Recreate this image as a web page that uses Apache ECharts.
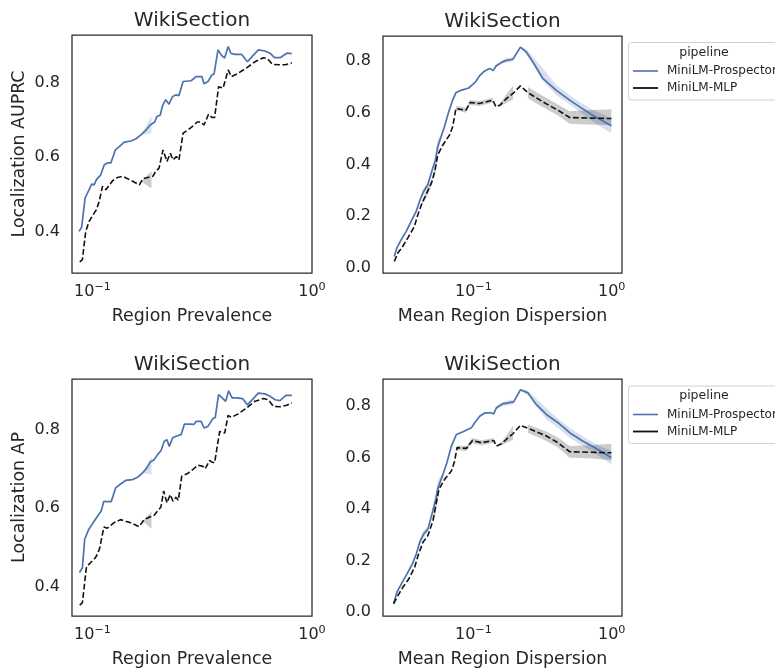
<!DOCTYPE html>
<html><head><meta charset="utf-8">
<script src="https://cdn.jsdelivr.net/npm/echarts@6/dist/echarts.min.js"></script>
<style>html,body{margin:0;padding:0;background:#fff}#c{width:775px;height:669px}</style>
</head><body><div id="c"></div>
<script>
// ---------- data ----------
const seriesNames = ['MiniLM-Prospector', 'MiniLM-MLP'];
const legendTitle = 'pipeline';
const panelTitles = ['WikiSection', 'WikiSection', 'WikiSection', 'WikiSection'];
const xAxisNames = ['Region Prevalence', 'Mean Region Dispersion', 'Region Prevalence', 'Mean Region Dispersion'];
const yAxisNames = ['Localization AUPRC', '', 'Localization AP', ''];

// Panel 1: Localization AUPRC vs Region Prevalence
const p1ProspX = [0.0869,0.0893,0.0926,0.0966,0.0993,0.1018,0.1043,0.1091,0.1132,0.1172,0.1213,0.1271,0.1325,0.1396,0.1499,0.158,0.1667,0.1758,0.1834,0.192,0.1968,0.2037,0.208,0.2155,0.2234,0.2312,0.2393,0.2427,0.2477,0.2588,0.2634,0.2815,0.2966,0.3153,0.322,0.336,0.3505,0.358,0.3667,0.3734,0.3865,0.4,0.415,0.4265,0.4447,0.4775,0.5083,0.5404,0.570,0.611,0.644,0.675,0.716,0.768,0.809];
const p1ProspY = [0.400,0.411,0.490,0.512,0.527,0.525,0.539,0.552,0.579,0.584,0.584,0.619,0.628,0.640,0.643,0.649,0.660,0.673,0.686,0.694,0.709,0.713,0.736,0.754,0.742,0.762,0.767,0.772,0.765,0.803,0.807,0.805,0.816,0.816,0.797,0.803,0.821,0.823,0.861,0.888,0.874,0.866,0.897,0.879,0.876,0.876,0.856,0.874,0.888,0.885,0.879,0.867,0.867,0.879,0.878];
const p1MlpX = [0.0875,0.090,0.0932,0.0966,0.1018,0.1043,0.1074,0.1111,0.1151,0.1235,0.1303,0.1374,0.1474,0.1637,0.1695,0.1786,0.1883,0.194,0.201,0.2096,0.2185,0.2263,0.2328,0.241,0.2477,0.2588,0.2729,0.2877,0.2999,0.3105,0.322,0.338,0.350,0.360,0.3755,0.3935,0.415,0.4295,0.461,0.513,0.550,0.600,0.628,0.660,0.708,0.755,0.809];
const p1MlpY = [0.318,0.324,0.400,0.427,0.449,0.458,0.481,0.521,0.512,0.536,0.545,0.548,0.539,0.525,0.541,0.545,0.548,0.561,0.570,0.619,0.588,0.610,0.592,0.601,0.592,0.664,0.673,0.684,0.694,0.694,0.686,0.715,0.706,0.706,0.789,0.785,0.834,0.816,0.825,0.843,0.856,0.867,0.864,0.849,0.848,0.848,0.853];
const p1ProspBands = [[[0.1667,0.660,0.660],[0.1858,0.664,0.710]]];
const p1MlpBands = [[[0.1665,0.534,0.534],[0.1858,0.515,0.562]]];

// Panel 2: Localization AUPRC vs Mean Region Dispersion
const p2ProspX = [0.0268,0.0279,0.030,0.0326,0.0354,0.0385,0.0411,0.0435,0.0467,0.0508,0.0531,0.0552,0.0583,0.0617,0.0663,0.0708,0.0748,0.0813,0.0925,0.0977,0.1034,0.1116,0.1201,0.1305,0.1395,0.1457,0.1609,0.1741,0.1933,0.2187,0.2416,0.2698,0.3187,0.3981,0.4969,0.5871,0.7325,0.995];
const p2ProspY = [0.0447,0.0771,0.109,0.141,0.180,0.218,0.263,0.295,0.321,0.386,0.417,0.469,0.507,0.546,0.604,0.649,0.678,0.687,0.696,0.707,0.719,0.745,0.761,0.771,0.764,0.781,0.796,0.803,0.807,0.854,0.835,0.796,0.732,0.687,0.649,0.623,0.590,0.550];
const p2MlpX = [0.0268,0.0284,0.0308,0.0335,0.0374,0.0396,0.0425,0.0454,0.0502,0.0531,0.0552,0.06,0.0671,0.0708,0.0748,0.0884,0.0945,0.1105,0.1379,0.1457,0.155,0.1732,0.1933,0.2187,0.2481,0.3187,0.4089,0.4969,0.6564,0.995];
const p2MlpY = [0.0254,0.0578,0.0833,0.116,0.160,0.205,0.251,0.283,0.334,0.386,0.437,0.475,0.514,0.546,0.617,0.610,0.640,0.636,0.649,0.623,0.629,0.655,0.675,0.704,0.678,0.642,0.610,0.582,0.580,0.578];
const p2ProspBands = [
  [[0.0411,0.255,0.270],[0.0435,0.280,0.310],[0.0467,0.312,0.330]],
  [[0.0531,0.405,0.430],[0.0552,0.445,0.500],[0.0583,0.500,0.514]],
  [[0.1457,0.776,0.786],[0.1609,0.789,0.803],[0.1741,0.795,0.812],[0.1933,0.798,0.816]],
  [[0.2187,0.851,0.857],[0.2416,0.825,0.846],[0.3187,0.722,0.770],[0.3981,0.668,0.708],[0.4969,0.632,0.668],[0.5871,0.603,0.642],[0.7325,0.566,0.612],[0.995,0.520,0.578]]
];
const p2MlpBands = [
  [[0.0425,0.243,0.258],[0.0454,0.268,0.298],[0.0502,0.322,0.346]],
  [[0.0502,0.334,0.334],[0.0531,0.362,0.410],[0.0552,0.430,0.445]],
  [[0.0748,0.610,0.626],[0.0884,0.600,0.620],[0.0945,0.630,0.650],[0.1105,0.626,0.646],[0.1379,0.640,0.658]],
  [[0.155,0.624,0.634],[0.1732,0.638,0.672],[0.1933,0.652,0.706]],
  [[0.2481,0.655,0.700],[0.3187,0.622,0.665],[0.4089,0.590,0.632],[0.4969,0.558,0.606],[0.6564,0.555,0.610],[0.995,0.552,0.614]]
];

// Panel 3: Localization AP vs Region Prevalence
const p3ProspX = [0.0872,0.0900,0.0922,0.0962,0.0997,0.1014,0.1043,0.1096,0.1127,0.1168,0.1218,0.1275,0.1344,0.1416,0.1521,0.1603,0.169,0.177,0.1833,0.191,0.198,0.2051,0.2124,0.2185,0.2239,0.232,0.2404,0.2449,0.2535,0.2625,0.2767,0.2899,0.297,0.3128,0.3221,0.3359,0.354,0.3627,0.3705,0.3757,0.3895,0.4045,0.4174,0.4326,0.4529,0.4826,0.5085,0.5401,0.5693,0.6106,0.6436,0.6787,0.7152,0.7599,0.8096];
const p3ProspY = [0.436,0.448,0.521,0.546,0.559,0.559,0.576,0.593,0.618,0.617,0.617,0.652,0.662,0.671,0.673,0.679,0.690,0.703,0.718,0.724,0.737,0.747,0.771,0.775,0.758,0.780,0.784,0.780,0.788,0.815,0.815,0.814,0.822,0.822,0.805,0.809,0.829,0.832,0.869,0.890,0.882,0.873,0.900,0.882,0.882,0.880,0.864,0.880,0.894,0.892,0.886,0.877,0.875,0.888,0.888];
const p3MlpX = [0.0875,0.0900,0.0939,0.0979,0.1032,0.1051,0.108,0.1127,0.1168,0.1252,0.1344,0.1416,0.1494,0.1631,0.1719,0.1813,0.191,0.198,0.2051,0.2110,0.2185,0.2262,0.2328,0.2402,0.2461,0.2552,0.2699,0.2866,0.3022,0.3186,0.3265,0.3415,0.3503,0.3601,0.3797,0.4002,0.4148,0.4295,0.4609,0.5032,0.5494,0.6004,0.6328,0.6674,0.7152,0.7679,0.8096];
const p3MlpY = [0.353,0.359,0.450,0.461,0.474,0.482,0.499,0.552,0.549,0.563,0.571,0.567,0.563,0.553,0.571,0.577,0.582,0.593,0.603,0.644,0.614,0.635,0.618,0.628,0.620,0.682,0.688,0.699,0.710,0.707,0.701,0.722,0.718,0.716,0.796,0.792,0.837,0.832,0.841,0.856,0.873,0.880,0.877,0.860,0.859,0.863,0.869];
const p3ProspBands = [[[0.169,0.690,0.690],[0.1858,0.686,0.733]]];
const p3MlpBands = [[[0.169,0.567,0.567],[0.1858,0.548,0.592]]];

// Panel 4: Localization AP vs Mean Region Dispersion
const p4ProspX = [0.0265,0.0280,0.0302,0.0331,0.0362,0.0387,0.0409,0.0437,0.0469,0.0505,0.0534,0.0555,0.0597,0.0644,0.0693,0.0753,0.0841,0.0967,0.1022,0.111,0.1207,0.1349,0.1402,0.1466,0.1621,0.1779,0.1956,0.2187,0.2481,0.2854,0.3372,0.4089,0.4969,0.6202,0.7962,0.995];
const p4ProspY = [0.032,0.077,0.110,0.148,0.187,0.226,0.271,0.303,0.322,0.387,0.439,0.484,0.529,0.581,0.645,0.690,0.701,0.716,0.736,0.761,0.774,0.774,0.770,0.794,0.809,0.813,0.817,0.864,0.852,0.806,0.768,0.736,0.697,0.664,0.632,0.600];
const p4MlpX = [0.0265,0.0285,0.031,0.0342,0.0376,0.0398,0.0432,0.0469,0.051,0.0534,0.0564,0.062,0.0693,0.0732,0.0761,0.089,0.0984,0.1143,0.1402,0.1466,0.1594,0.1779,0.1933,0.2187,0.2481,0.3372,0.4089,0.4969,0.6935,0.995];
const p4MlpY = [0.032,0.064,0.097,0.129,0.174,0.219,0.271,0.297,0.355,0.413,0.477,0.516,0.548,0.587,0.639,0.636,0.667,0.658,0.667,0.645,0.654,0.677,0.693,0.726,0.714,0.684,0.658,0.623,0.621,0.619];
const p4ProspBands = [
  [[0.0409,0.255,0.285],[0.0437,0.288,0.318],[0.0469,0.312,0.330]],
  [[0.0534,0.420,0.458],[0.0555,0.460,0.515],[0.0597,0.520,0.536]],
  [[0.1466,0.788,0.800],[0.1621,0.800,0.816],[0.1779,0.804,0.822],[0.1956,0.808,0.826]],
  [[0.2187,0.861,0.867],[0.2481,0.842,0.860],[0.3372,0.748,0.792],[0.4089,0.716,0.752],[0.4969,0.677,0.716],[0.6202,0.645,0.682],[0.7962,0.607,0.648],[0.995,0.574,0.626]]
];
const p4MlpBands = [
  [[0.051,0.342,0.368],[0.0534,0.385,0.440],[0.0564,0.462,0.490]],
  [[0.0761,0.630,0.646],[0.089,0.626,0.646],[0.0984,0.656,0.676],[0.1143,0.648,0.668],[0.1402,0.658,0.676]],
  [[0.1594,0.647,0.660],[0.1779,0.660,0.695],[0.1933,0.670,0.724]],
  [[0.2481,0.697,0.729],[0.3372,0.665,0.702],[0.4089,0.640,0.678],[0.4969,0.600,0.645],[0.6935,0.598,0.648],[0.995,0.590,0.654]]
];

// ---------- layout / style ----------
const FONT = 'DejaVu Sans';
const TXT = '#262626';
const BLUE = '#4c72b0';
const BLACK = '#111111';
const grids = [
  {left: 72, top: 35, width: 240, height: 238},
  {left: 383, top: 36, width: 239, height: 237},
  {left: 72, top: 379, width: 240, height: 238},
  {left: 383, top: 379, width: 239, height: 238}
];
const xRanges = [[0.0807, 1.0], [0.0222, 1.187], [0.0807, 1.0], [0.0222, 1.187]];
const yRanges = [[0.288, 0.928], [-0.019, 0.897], [0.325, 0.930], [-0.016, 0.906]];

const panels = [
  {px: p1ProspX, py: p1ProspY, mx: p1MlpX, my: p1MlpY, pb: p1ProspBands, mb: p1MlpBands},
  {px: p2ProspX, py: p2ProspY, mx: p2MlpX, my: p2MlpY, pb: p2ProspBands, mb: p2MlpBands},
  {px: p3ProspX, py: p3ProspY, mx: p3MlpX, my: p3MlpY, pb: p3ProspBands, mb: p3MlpBands},
  {px: p4ProspX, py: p4ProspY, mx: p4MlpX, my: p4MlpY, pb: p4ProspBands, mb: p4MlpBands}
];

function zip(xs, ys) { const n = Math.min(xs.length, ys.length); const r = []; for (let i = 0; i < n; i++) r.push([xs[i], ys[i]]); return r; }

function bandSeries(i, bands, color) {
  return {
    type: 'custom', xAxisIndex: i, yAxisIndex: i, silent: true, z: 1, clip: true,
    data: bands.map(b => [b[0][0], b[0][1]]),
    renderItem: function (params, api) {
      const b = bands[params.dataIndex];
      const top = b.map(p => api.coord([p[0], p[2]]));
      const bot = b.slice().reverse().map(p => api.coord([p[0], p[1]]));
      return {type: 'polygon', shape: {points: top.concat(bot)}, style: {fill: color, stroke: null}};
    }
  };
}

const xAxes = [], yAxes = [], series = [], graphics = [];
panels.forEach((p, i) => {
  xAxes.push({
    type: 'log', logBase: 10, gridIndex: i, min: xRanges[i][0], max: xRanges[i][1],
    axisLine: {show: false}, axisTick: {show: false}, splitLine: {show: false}, minorTick: {show: false},
    axisLabel: {
      margin: 9, color: TXT, fontFamily: FONT, fontSize: 16,
      formatter: function (v) {
        const l = Math.log10(v), e = Math.round(l);
        if (Math.abs(l - e) > 1e-6) return '';
        return '{b|10}{s|' + (e < 0 ? '\u2212' + (-e) : e) + '}';
      },
      rich: {
        b: {fontSize: 16, fontFamily: FONT, color: TXT},
        s: {fontSize: 11.2, fontFamily: FONT, color: TXT, padding: [0, 0, 8, 0]}
      }
    },
    name: xAxisNames[i], nameLocation: 'middle', nameGap: 35,
    nameTextStyle: {fontFamily: FONT, fontSize: 17.4, color: TXT}
  });
  yAxes.push({
    type: 'value', gridIndex: i, min: yRanges[i][0], max: yRanges[i][1],
    axisLine: {show: false}, axisTick: {show: false}, splitLine: {show: false},
    axisLabel: {
      margin: 12, color: TXT, fontFamily: FONT, fontSize: 16,
      formatter: function (v) { const k = v / 0.2; return Math.abs(k - Math.round(k)) < 1e-6 ? Math.abs(v).toFixed(1) : ''; }
    },
    name: yAxisNames[i], nameLocation: 'middle', nameGap: 44, nameRotate: 90,
    nameTextStyle: {fontFamily: FONT, fontSize: 17.4, color: TXT}
  });
  series.push(bandSeries(i, p.pb, 'rgba(76,114,176,0.22)'));
  series.push(bandSeries(i, p.mb, 'rgba(0,0,0,0.2)'));
  series.push({
    type: 'line', name: seriesNames[0], xAxisIndex: i, yAxisIndex: i, data: zip(p.px, p.py),
    symbol: 'none', showSymbol: false, z: 3, lineStyle: {color: BLUE, width: 1.7}, itemStyle: {color: BLUE}
  });
  series.push({
    type: 'line', name: seriesNames[1], xAxisIndex: i, yAxisIndex: i, data: zip(p.mx, p.my),
    symbol: 'none', showSymbol: false, z: 4, lineStyle: {color: BLACK, width: 1.6, type: [5.8, 2.6]}, itemStyle: {color: BLACK}
  });
  const g = grids[i];
  graphics.push({
    type: 'text', x: g.left + g.width / 2, y: g.top - 14,
    style: {text: panelTitles[i], fontFamily: FONT, fontSize: 20, fill: TXT, align: 'center', verticalAlign: 'middle'}
  });
});

// legends (right of the right-hand panels)
[42.5, 386].forEach(top => {
  graphics.push({type: 'rect', shape: {x: 628.5, y: top, width: 170, height: 57.5, r: 3},
    style: {fill: 'rgba(255,255,255,0.8)', stroke: '#d0d0d0', lineWidth: 1}});
  graphics.push({type: 'text', x: 704, y: top + 10, style: {text: legendTitle, fontFamily: FONT, fontSize: 12.5, fill: TXT, align: 'center', verticalAlign: 'middle'}});
  graphics.push({type: 'line', shape: {x1: 633, y1: top + 28.5, x2: 658, y2: top + 28.5}, style: {stroke: BLUE, lineWidth: 1.6}});
  graphics.push({type: 'line', shape: {x1: 633, y1: top + 45.5, x2: 658, y2: top + 45.5}, style: {stroke: BLACK, lineWidth: 1.8}});
  graphics.push({type: 'text', x: 667, y: top + 28.5, style: {text: seriesNames[0], fontFamily: FONT, fontSize: 12, fill: TXT, align: 'left', verticalAlign: 'middle'}});
  graphics.push({type: 'text', x: 667, y: top + 45.5, style: {text: seriesNames[1], fontFamily: FONT, fontSize: 12, fill: TXT, align: 'left', verticalAlign: 'middle'}});
});

const chart = echarts.init(document.getElementById('c'), null, {renderer: 'canvas'});
chart.setOption({
  animation: false,
  backgroundColor: '#ffffff',
  textStyle: {fontFamily: FONT},
  grid: grids.map(g => Object.assign({show: true, borderColor: '#2a2a2a', borderWidth: 1.25, backgroundColor: 'transparent', containLabel: false}, g)),
  xAxis: xAxes,
  yAxis: yAxes,
  series: series,
  graphic: graphics
});
</script>
</body></html>
